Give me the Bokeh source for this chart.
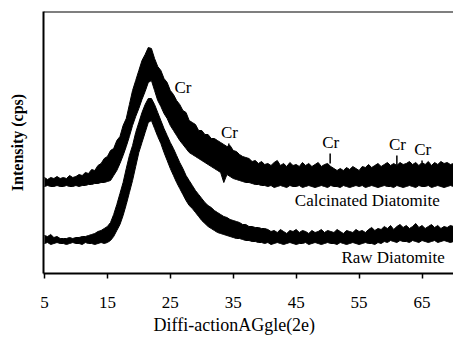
import numpy as np
from bokeh.plotting import figure
from bokeh.models import Range1d, LinearAxis, FixedTicker, Label, Span, Title
from bokeh.embed import file_html
from bokeh.resources import INLINE

# 2-theta sample grid (degrees)
two_theta = np.arange(5.0, 70.001, 0.5)

# Calcinated diatomite: upper / lower envelope of the noisy trace (arb. cps)
calc_upper = [96, 94, 96, 95, 97, 95, 96, 95, 98, 96, 97, 99, 98, 101, 100, 104, 103, 108, 110, 115,
              117, 123, 125, 133, 137, 148, 155, 169, 183, 193, 203, 213, 219, 226, 225, 215, 207, 203, 195, 191,
              183, 179, 173, 169, 163, 161, 153, 151, 149, 143, 143, 139, 139, 135, 135, 133, 131, 129, 127, 128,
              123, 122, 119, 117, 116, 115, 112, 113, 110, 112, 109, 110, 108, 111, 113, 108, 110, 107, 111, 108,
              109, 107, 111, 108, 110, 107, 109, 111, 107, 109, 110, 107, 105, 103, 105, 103, 106, 104, 107, 105,
              103, 107, 106, 109, 106, 108, 110, 107, 109, 111, 108, 110, 108, 111, 109, 110, 112, 109, 111, 108,
              111, 109, 112, 108, 111, 109, 112, 110, 111, 109, 110]
calc_lower = [87, 88, 87, 87, 88, 87, 87, 88, 87, 87, 88, 87, 88, 88, 89, 89, 90, 90, 91, 91,
              92, 93, 98, 103, 110, 118, 127, 137, 148, 157, 165, 174, 182, 191, 193, 183, 173, 167, 160, 155,
              148, 143, 138, 133, 129, 125, 121, 119, 117, 115, 113, 111, 109, 107, 105, 103, 101, 91, 99, 97,
              95, 94, 93, 92, 91, 91, 90, 89, 89, 88,
              88, 87, 88, 86, 87, 88, 87, 86, 88, 87, 87, 88, 86, 87, 88, 87, 86, 87, 88, 87,
              86, 88, 87, 87, 86, 88, 87, 86, 87, 88, 87, 88, 86, 87, 88, 87, 86, 87, 88, 87,
              87, 86, 88, 87, 86, 87, 88, 87, 86, 88, 87, 87, 88, 86, 87, 88, 87, 86, 87, 88, 87]

# Raw diatomite: upper / lower envelope of the noisy trace (arb. cps)
raw_upper = [38, 37, 39, 36, 37, 35, 35, 35, 36, 35, 36, 36, 37, 37, 38, 39, 40, 42, 43, 45,
             47, 51, 59, 69, 80, 91, 105, 118, 128, 141, 151, 161, 169, 175, 175, 169, 161, 153, 145, 138,
             131, 125, 118, 111, 105, 98, 93, 88, 83, 79, 75, 71, 68, 66, 63, 61, 59, 57, 56, 54,
             53, 52, 51, 49, 49, 47, 47, 46, 46, 45, 45,
             44, 42, 43, 41, 44, 42, 40, 43, 42, 44, 41, 43, 42, 40, 43, 41, 42, 44, 41, 43,
             42, 41, 44, 42, 40, 43, 42, 41, 44, 42, 43, 41, 44, 46, 43, 45, 44,
             47, 45, 48, 44, 47, 49, 46, 48, 45, 47, 50, 46, 48, 45, 47, 49, 46, 48, 45, 47, 46, 48, 47]
raw_lower = [30, 31, 29, 30, 31, 30, 30, 29, 30, 31, 30, 30, 29, 31, 30, 30, 29, 30, 31, 30,
             31, 33, 37, 43, 49, 58, 69, 81, 93, 107, 121, 131, 141, 151, 153, 145, 137, 130, 121, 113,
             105, 98, 91, 85, 79, 73, 68, 65, 61, 57, 53, 50, 47, 45, 43, 41, 40, 39, 38, 37,
             36, 35, 35, 34, 33, 33, 32, 32, 31, 31,
             30, 31, 29, 30, 31, 30, 29, 30, 31, 30, 29, 30, 30, 31, 29, 30, 31, 30, 29, 30,
             31, 30, 30, 29, 31, 30, 29, 30, 31, 30, 29, 30, 31, 30, 30, 29, 31, 30,
             32, 31, 33, 32, 31, 33, 32, 32, 31, 33, 32, 31, 33, 32, 31, 32, 33, 31, 32, 33, 32, 31, 32]

# Cristobalite (Cr) reflections on the calcinated trace
cr_theta = [26.9, 34.3, 50.4, 61.0, 65.0]
cr_peak_top = [175, 130, 120, 118, 113]
cr_label = ["Cr", "Cr", "Cr", "Cr", "Cr"]

x_ticks = [5, 15, 25, 35, 45, 55, 65]

FONT = "Liberation Serif"

p = figure(width=453, height=337, output_backend="svg", toolbar_location=None,
           x_range=Range1d(4.85, 70.0), y_range=Range1d(0, 262),
           x_axis_location=None, y_axis_location=None,
           min_border_left=43, min_border_right=0, min_border_top=11, min_border_bottom=64)
p.outline_line_color = None
p.xgrid.visible = False
p.ygrid.visible = False
p.background_fill_color = "white"
p.border_fill_color = "white"

xa = LinearAxis(ticker=FixedTicker(ticks=x_ticks))
xa.axis_line_width = 2
xa.axis_line_color = "black"
xa.major_tick_out = 5
xa.major_tick_in = 0
xa.major_tick_line_width = 1.5
xa.minor_tick_line_color = None
xa.major_label_standoff = 18
xa.major_label_text_font = FONT
xa.major_label_text_font_size = "17px"
xa.major_label_text_color = "black"
p.add_layout(xa, "below")

ya = LinearAxis(ticker=FixedTicker(ticks=[]))
ya.axis_line_width = 2
ya.axis_line_color = "black"
ya.major_tick_line_color = None
ya.minor_tick_line_color = None
ya.axis_label = "Intensity (cps)"
ya.axis_label_standoff = 18
ya.axis_label_text_font = FONT
ya.axis_label_text_font_size = "16px"
ya.axis_label_text_font_style = "bold"
ya.axis_label_text_color = "black"
p.add_layout(ya, "left")

p.add_layout(Span(location=262, dimension="width", line_color="black", line_width=2))

for up, lo in ((calc_upper, calc_lower), (raw_upper, raw_lower)):
    p.varea(x=two_theta, y1=lo, y2=up, fill_color="black")
    p.line(two_theta, up, line_color="black", line_width=1)
    p.line(two_theta, lo, line_color="black", line_width=1)

# Cr marker lines and labels
p.segment(x0=cr_theta[1:], y0=[calc_upper[int((t - 5) * 2)] for t in cr_theta[1:]],
          x1=cr_theta[1:], y1=cr_peak_top[1:], line_color="black", line_width=1.5)
for t, top, lab in zip(cr_theta, cr_peak_top, cr_label):
    p.add_layout(Label(x=t + 0.1, y=top + 2, text=lab, text_font=FONT, text_font_size="17px",
                       text_align="center", text_baseline="bottom", text_color="black"))

p.add_layout(Label(x=56.3, y=73, text="Calcinated Diatomite", text_font=FONT, text_font_size="17px",
                   text_align="center", text_baseline="middle", text_color="black"))
p.add_layout(Label(x=60.4, y=16, text="Raw Diatomite", text_font=FONT, text_font_size="17px",
                   text_align="center", text_baseline="middle", text_color="black"))

p.add_layout(Title(text="Diffi-actionAGgle(2e)", align="left", offset=110, standoff=5,
                   text_font=FONT, text_font_size="18px", text_font_style="normal",
                   text_color="black"), "below")

open("out.html", "w").write(file_html(p, INLINE))
